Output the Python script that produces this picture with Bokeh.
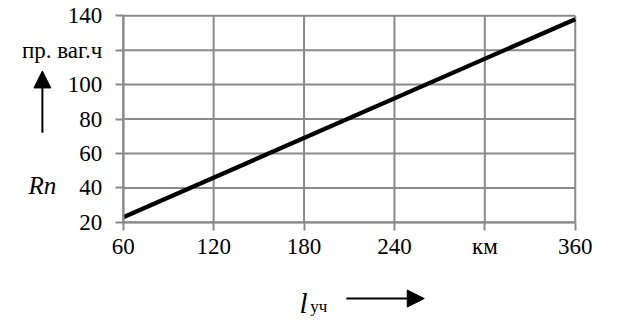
from bokeh.plotting import figure
from bokeh.models import Range1d, FixedTicker, Label, Arrow, NormalHead
from bokeh.embed import file_html
from bokeh.resources import INLINE

# ---- data ----
l_uch = [60, 360]
rn = [23, 138]
x_ticks = [60, 120, 180, 240, 300, 360]
y_ticks = [20, 40, 60, 80, 100, 120, 140]
x_overrides = {300: "км"}
y_overrides = {120: "пр. ваг.ч"}

# ---- layout (pixels) ----
W, H = 603, 319
SX, SY = W / 619, H / 335          # reference -> canvas scale
SHIFT_Y = 4                        # move the content slightly up
FX0, FX1 = 126, 590                # reference px of x=60 / x=360
FY1, FY0 = 20 - SHIFT_Y, 237 - SHIFT_Y   # reference px of y=140 / y=20
ppx = (FX1 - FX0) * SX / (x_ticks[-1] - x_ticks[0])
ppy = (FY0 - FY1) * SY / (y_ticks[-1] - y_ticks[0])
x_start = x_ticks[0] - FX0 * SX / ppx
x_end = x_start + W / ppx
y_end = y_ticks[-1] + FY1 * SY / ppy
y_start = y_end - H / ppy

def dx(px):
    return x_start + px * SX / ppx

def dy(py):
    return y_end - (py - SHIFT_Y) * SY / ppy

FONT = "Liberation Serif"
GRID = "#8a8a8a"
CAP_UP = 5                          # bottom caption lifted a little to stay inside

p = figure(width=W, height=H, x_range=Range1d(x_start, x_end), y_range=Range1d(y_start, y_end),
           output_backend="svg", toolbar_location=None,
           min_border_left=0, min_border_right=0, min_border_top=0, min_border_bottom=0)
p.outline_line_color = None
p.background_fill_color = "white"
p.border_fill_color = "white"
p.xgrid.visible = False
p.ygrid.visible = False

p.xaxis.fixed_location = y_ticks[0]
p.yaxis.fixed_location = x_ticks[0]
p.xaxis.bounds = (x_ticks[0], x_ticks[-1])
p.yaxis.bounds = (y_ticks[0], y_ticks[-1])

for ax, ticks, ov, so in ((p.xaxis[0], x_ticks, x_overrides, 4), (p.yaxis[0], y_ticks, y_overrides, 13)):
    ax.ticker = FixedTicker(ticks=ticks)
    ax.major_label_overrides = ov
    ax.axis_line_color = GRID
    ax.axis_line_width = 2
    ax.major_tick_line_color = GRID
    ax.major_tick_line_width = 2
    ax.major_tick_in = 0
    ax.major_tick_out = 8
    ax.minor_tick_line_color = None
    ax.major_label_text_font = FONT
    ax.major_label_text_font_size = "23px"
    ax.major_label_text_color = "black"
    ax.major_label_standoff = so

# grid lines limited to the data area
nx, ny = len(x_ticks), len(y_ticks)
p.segment(x0=x_ticks, y0=[y_ticks[0]] * nx, x1=x_ticks, y1=[y_ticks[-1]] * nx,
          line_color=GRID, line_width=2, level="underlay")
p.segment(x0=[x_ticks[0]] * ny, y0=y_ticks, x1=[x_ticks[-1]] * ny, y1=y_ticks,
          line_color=GRID, line_width=2, level="underlay")

p.line(l_uch, rn, line_color="black", line_width=4.3)

# axis captions
p.add_layout(Label(x=dx(43), y=dy(198), text="Rn", text_font=FONT, text_font_style="italic",
                   text_font_size="25px", text_align="center", text_baseline="alphabetic",
                   text_color="black"))
p.add_layout(Arrow(end=NormalHead(size=17, fill_color="black", line_color="black"),
                   x_start=dx(43), y_start=dy(143), x_end=dx(43), y_end=dy(78),
                   line_color="black", line_width=2))

p.add_layout(Label(x=dx(307), y=dy(327 - CAP_UP), text="l", text_font=FONT, text_font_style="italic",
                   text_font_size="29px", text_align="left", text_baseline="alphabetic",
                   text_color="black"))
p.add_layout(Label(x=dx(318), y=dy(330 - CAP_UP), text="уч", text_font=FONT,
                   text_font_size="17px", text_align="left", text_baseline="alphabetic",
                   text_color="black"))
p.add_layout(Arrow(end=NormalHead(size=17, fill_color="black", line_color="black"),
                   x_start=dx(355), y_start=dy(322 - CAP_UP), x_end=dx(435), y_end=dy(322 - CAP_UP),
                   line_color="black", line_width=2))

open("out.html", "w").write(file_html(p, INLINE))
